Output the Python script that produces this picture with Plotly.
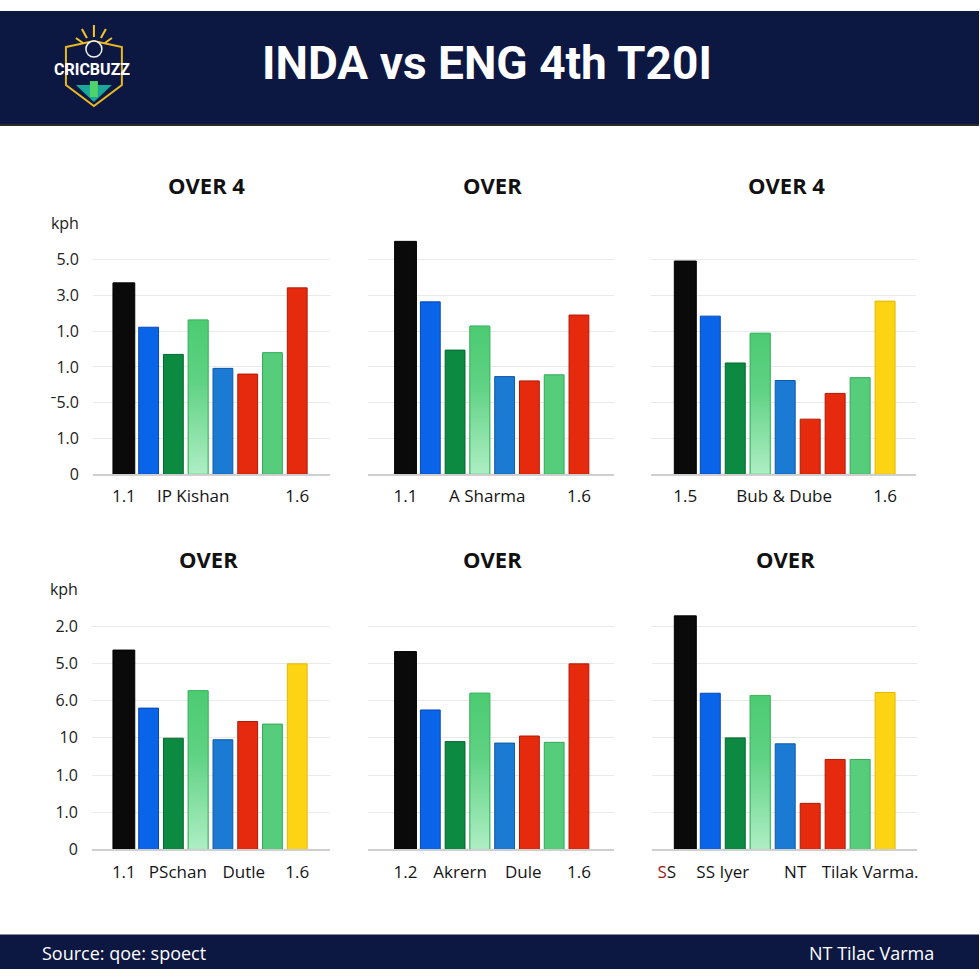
import plotly.graph_objects as go

# Header / footer texts
title = "INDA vs ENG 4th T20I"
logo_text = "CRICBUZZ"
source_text = "Source: qoe: spoect"
credit_text = "NT Tilac Varma"

panel_titles = ["OVER 4", "OVER", "OVER 4", "OVER", "OVER", "OVER"]

# Bar heights (in gridline units)
p1_vals = [5.35, 4.11, 3.35, 4.31, 2.96, 2.80, 3.40, 5.21]
p2_vals = [6.51, 4.82, 3.47, 4.14, 2.73, 2.61, 2.78, 4.45]
p3_vals = [5.96, 4.42, 3.11, 3.94, 2.62, 1.54, 2.26, 2.70, 4.84]
p4_vals = [5.36, 3.80, 2.99, 4.27, 2.95, 3.44, 3.37, 4.99]
p5_vals = [5.32, 3.75, 2.90, 4.20, 2.86, 3.05, 2.88, 4.99]
p6_vals = [6.28, 4.20, 3.00, 4.14, 2.84, 1.24, 2.42, 2.42, 4.22]

# Bar colour keys
p1_cols = ["black", "blue", "dkgreen", "ltgreen", "blue2", "red", "green", "red"]
p2_cols = ["black", "blue", "dkgreen", "ltgreen", "blue2", "red", "green", "red"]
p3_cols = ["black", "blue", "dkgreen", "ltgreen", "blue2", "red", "red", "green", "yellow"]
p4_cols = ["black", "blue", "dkgreen", "ltgreen", "blue2", "red", "green", "yellow"]
p5_cols = ["black", "blue", "dkgreen", "ltgreen", "blue2", "red", "green", "red"]
p6_cols = ["black", "blue", "dkgreen", "ltgreen", "blue2", "red", "red", "green", "yellow"]

# x tick labels (position in bar index units, text)
p1_xt = ([0, 2.8, 7], ["1.1", "IP Kishan", "1.6"])
p2_xt = ([0, 3.3, 7], ["1.1", "A Sharma", "1.6"])
p3_xt = ([0, 3.96, 8], ["1.5", "Bub & Dube", "1.6"])
p4_xt = ([0, 2.18, 4.84, 7], ["1.1", "PSchan", "Dutle", "1.6"])
p5_xt = ([0, 2.2, 4.75, 7], ["1.2", "Akrern", "Dule", "1.6"])
p6_xt = ([-0.74, 1.5, 4.4, 7.4],
         ['<span style="color:#9b1b1b">S</span>S', "SS Iyer", "NT", "Tilak Varma."])

# y tick labels (bottom to top)
top_yticks = ["0", "1.0", "ˉ5.0", "1.0", "1.0", "3.0", "5.0", "kph"]
bottom_yticks = ["0", "1.0", "1.0", "10", "6.0", "5.0", "2.0", "kph"]

fill = {"black": "#0a0a0a", "blue": "#0a64ea", "dkgreen": "#0c8a42",
        "ltgreen": "#7fdc9c", "blue2": "#1a7ad4", "red": "#e52a0e",
        "green": "#55cd7a", "yellow": "#fdd414"}
edge = {"black": "#000000", "blue": "#0648b0", "dkgreen": "#076630",
        "ltgreen": "#3fb863", "blue2": "#0f5aa5", "red": "#b01a05",
        "green": "#35a85a", "yellow": "#e6b800"}

NAVY = "#0c1742"
W = 980


def px(x):
    return x / W


def py(y):
    # y in picture pixels -> paper fraction (the photographed page sits ~10px
    # lower and is squeezed a little vertically, so compensate for that)
    return 1 - (y - 10) / 0.977 / W


panels = [
    (p1_vals, p1_cols, p1_xt, top_yticks, (93, 330), (473, 222), (-1.25, 8.31), (207, 184)),
    (p2_vals, p2_cols, p2_xt, None, (368, 615), (473, 222), (-1.53, 8.43), (493, 184)),
    (p3_vals, p3_cols, p3_xt, None, (652, 917), (473, 222), (-1.36, 9.24), (787, 184)),
    (p4_vals, p4_cols, p4_xt, bottom_yticks, (92, 330), (848, 587), (-1.29, 8.31), (209, 558)),
    (p5_vals, p5_cols, p5_xt, None, (368, 615), (848, 587), (-1.53, 8.43), (493, 558)),
    (p6_vals, p6_cols, p6_xt, None, (653, 918), (848, 587), (-1.32, 9.28), (786, 558)),
]

fig = go.Figure()
layout = {}
annotations = []


def label(x, y, text, size, color, family="Open Sans", xanchor="center"):
    annotations.append(dict(x=px(x), y=py(y), xref="paper", yref="paper",
                            xanchor=xanchor, yanchor="middle", text=text,
                            showarrow=False,
                            font=dict(size=size, color=color, family=family)))


for i, (vals, cols, xt, yt, xdom, ydom, xr, tpos) in enumerate(panels):
    n = "" if i == 0 else str(i + 1)
    xs = list(range(len(vals)))
    widths = [0.88 if c == "black" else 0.8 for c in cols]
    fig.add_trace(go.Bar(
        x=xs, y=vals, width=widths,
        marker=dict(color=[fill[c] for c in cols],
                    line=dict(color=[edge[c] for c in cols], width=1)),
        xaxis="x" + n, yaxis="y" + n, showlegend=False, hoverinfo="y"))

    # light green bars fade towards the baseline
    for x, v, c in zip(xs, vals, cols):
        if c == "ltgreen":
            fig.add_trace(go.Scatter(
                x=[x - 0.4, x + 0.4, x + 0.4, x - 0.4, x - 0.4],
                y=[0, 0, v, v, 0], mode="lines", fill="toself",
                line=dict(color=edge[c], width=1),
                fillgradient=dict(type="vertical",
                                  colorscale=[[0, "#aeeec4"], [0.6, "#5fd283"], [1, "#4ccb72"]]),
                xaxis="x" + n, yaxis="y" + n, showlegend=False, hoverinfo="skip"))

    layout["xaxis" + n] = dict(
        domain=[px(xdom[0]), px(xdom[1])], range=list(xr), anchor="y" + n,
        tickvals=xt[0], ticktext=xt[1], showgrid=False, zeroline=False,
        showline=True, linecolor="#cfcfcf", linewidth=1.5, ticks="",
        ticklabelstandoff=6, tickfont=dict(size=17, color="#151515", family="Open Sans"),
        fixedrange=True)
    layout["yaxis" + n] = dict(
        domain=[py(ydom[0]), py(ydom[1])], range=[0, 7.02], anchor="x" + n,
        tickvals=list(range(8)), ticktext=yt if yt else [""] * 8,
        showticklabels=bool(yt), showgrid=True, gridcolor="#e9e9e9", gridwidth=1,
        zeroline=False, ticks="", ticklabelstandoff=13,
        tickfont=dict(size=16, color="#222222", family="Open Sans"), fixedrange=True)
    label(tpos[0], tpos[1], "<b>" + panel_titles[i] + "</b>", 22, "#111111")

# header and footer text
label(487, 62, "<b>" + title + "</b>", 46, "white", family="Roboto")
label(92, 68, "<b>" + logo_text + "</b>", 16, "white", family="Roboto")
label(40, 951, source_text, 18, "white", xanchor="left")
label(937, 951, credit_text, 18, "white", xanchor="right")

shapes = [
    dict(type="rect", xref="paper", yref="paper", x0=0, x1=1, y0=py(123), y1=1,
         fillcolor=NAVY, line=dict(width=0), layer="below"),
    dict(type="line", xref="paper", yref="paper", x0=0, x1=1, y0=py(124), y1=py(124),
         line=dict(color="#2a2a2a", width=2)),
    dict(type="rect", xref="paper", yref="paper", x0=0, x1=1, y0=0, y1=py(933),
         fillcolor=NAVY, line=dict(width=0), layer="below"),
    # logo shield
    dict(type="path", xref="paper", yref="paper",
         path="M {} {} L {} {} L {} {} L {} {} L {} {} L {} {} Z".format(
             px(66), py(46), px(94), py(40), px(122), py(46),
             px(122), py(84), px(94), py(105), px(66), py(84)),
         line=dict(color="#e8b824", width=2), layer="below"),
    dict(type="path", xref="paper", yref="paper",
         path="M {} {} L {} {} L {} {} Z".format(
             px(76), py(84), px(112), py(84), px(94), py(101)),
         fillcolor="#1aa89a", line=dict(width=0)),
    dict(type="rect", xref="paper", yref="paper",
         x0=px(90), x1=px(98), y0=py(96), y1=py(80),
         fillcolor="#4fd36a", line=dict(width=0)),
    dict(type="circle", xref="paper", yref="paper",
         x0=px(86), x1=px(102), y0=py(56), y1=py(40),
         fillcolor=NAVY, line=dict(color="#f2f2f2", width=1.5)),
]
for x0, y0, x1, y1 in [(94, 36, 94, 24), (87, 37, 82, 28), (101, 37, 106, 28),
                       (83, 42, 76, 37), (105, 42, 112, 37)]:
    shapes.append(dict(type="line", xref="paper", yref="paper",
                       x0=px(x0), y0=py(y0), x1=px(x1), y1=py(y1),
                       line=dict(color="#f3c623", width=2)))

fig.update_layout(
    width=W, height=W, margin=dict(l=0, r=0, t=0, b=0),
    paper_bgcolor="white", plot_bgcolor="white",
    bargap=0.2, annotations=annotations, shapes=shapes,
    font=dict(family="Open Sans"),
    **layout)

# pin the chart to the window corner so the page does not overflow
fig.write_html("out.html", config={"displayModeBar": False},
               post_script=(
                   "document.body.style.margin='0';"
                   "document.body.style.overflow='hidden';"
                   "var d=document.getElementById('{plot_id}');"
                   "d.style.position='fixed';d.style.left='0';d.style.top='0';"))
